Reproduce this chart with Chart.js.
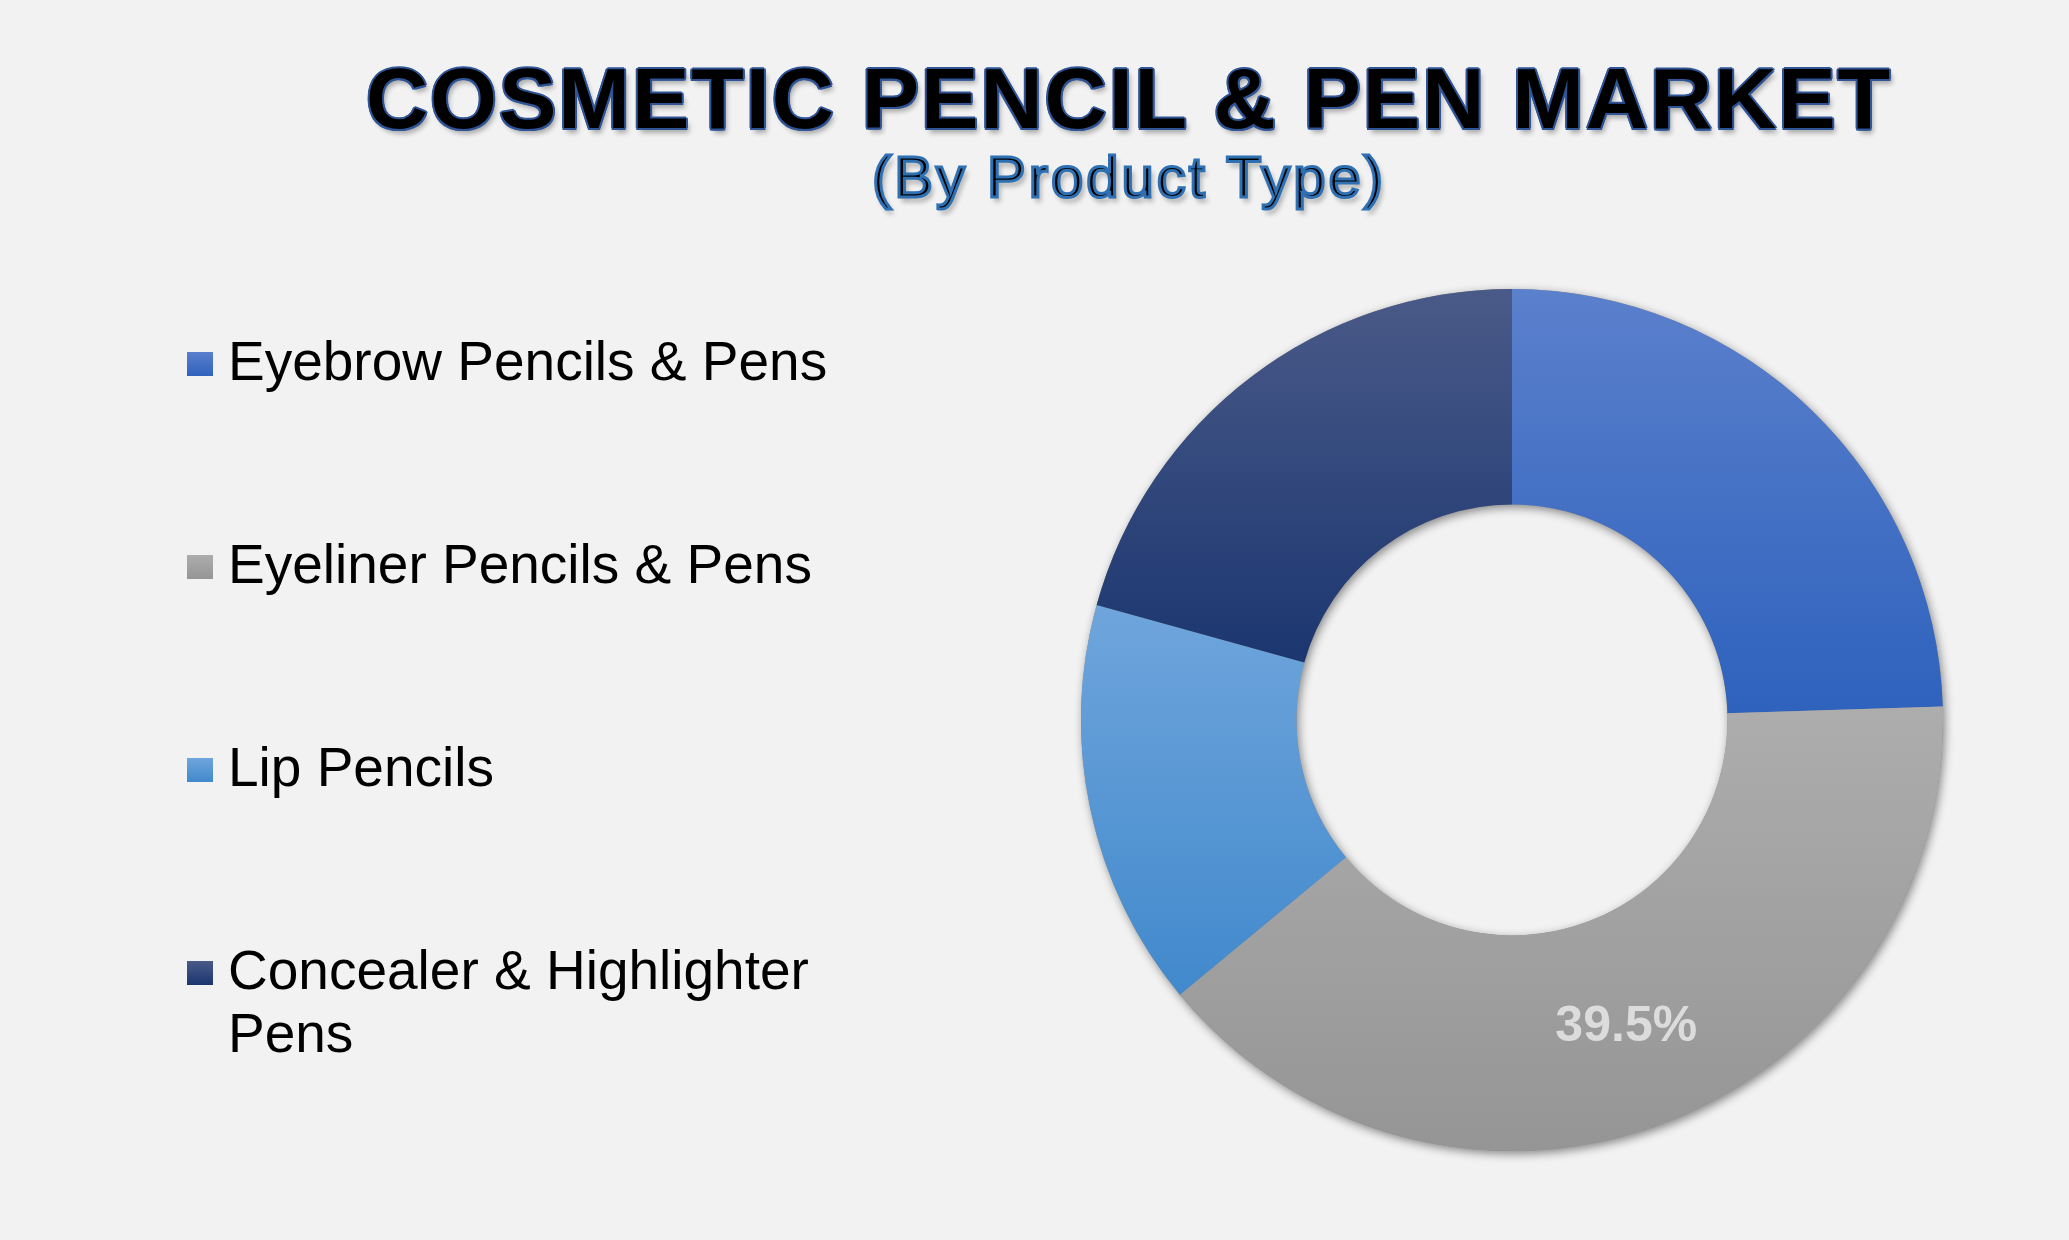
<!DOCTYPE html>
<html>
<head>
<meta charset="utf-8">
<script src="https://cdn.jsdelivr.net/npm/chart.js@4/dist/chart.umd.min.js"></script>
<style>
  html, body { margin:0; padding:0; background:#f2f2f2; }
  body { width:2069px; height:1240px; position:relative; overflow:hidden; font-family:"Liberation Sans", Arial, sans-serif; }
  #title { position:absolute; left:1129px; top:55px; transform:translateX(-50%); white-space:nowrap;
    font-weight:700; font-size:86px; line-height:86px; letter-spacing:2px; color:#000;
    text-shadow: 2px 0 #2f5597, -2px 0 #2f5597, 0 2px #2f5597, 0 -2px #2f5597,
      1.5px 1.5px #2f5597, -1.5px -1.5px #2f5597, 1.5px -1.5px #2f5597, -1.5px 1.5px #2f5597,
      3px 5px 5px rgba(0,0,0,0.3); }
  #subtitle { position:absolute; left:1129px; top:148px; transform:translateX(-50%); white-space:nowrap;
    font-weight:400; font-size:58px; line-height:58px; letter-spacing:3px; color:#000;
    -webkit-text-stroke: 3px #2e70b2;
    text-shadow: 3px 5px 5px rgba(0,0,0,0.3); }
  .leg { position:absolute; left:187px; width:660px; font-size:55px; line-height:63px; color:#000; }
  .leg .sw { position:absolute; left:0; top:22px; width:26px; height:24px; }
  .leg .tx { position:absolute; left:41px; width:625px; }
  #wrap { position:absolute; left:1052px; top:260px; width:920px; height:920px; }
</style>
</head>
<body>
<div id="title">COSMETIC PENCIL &amp; PEN MARKET</div>
<div id="subtitle">(By Product Type)</div>
<div id="legend"></div>
<div id="wrap"><canvas id="c" width="920" height="920"></canvas></div>
<script>
const categories = ['Eyebrow Pencils & Pens', 'Eyeliner Pencils & Pens', 'Lip Pencils', 'Concealer & Highlighter Pens'];
const shares = [24.5, 39.5, 15.3, 20.7];
const topColors = ['#5b80cc', '#adadad', '#6fa5dc', '#4a5a88'];
const bottomColors = ['#2e62bd', '#959595', '#4189cc', '#1b3670'];
const labelShown = [false, true, false, false];

// HTML legend built from the arrays
const legend = document.getElementById('legend');
categories.forEach((name, i) => {
  const item = document.createElement('div');
  item.className = 'leg';
  item.style.top = (330 + i * 203) + 'px';
  const sw = document.createElement('div');
  sw.className = 'sw';
  sw.style.background = 'linear-gradient(to bottom,' + topColors[i] + ',' + bottomColors[i] + ')';
  const tx = document.createElement('div');
  tx.className = 'tx';
  tx.textContent = name;
  item.appendChild(sw); item.appendChild(tx);
  legend.appendChild(item);
});

const gradientPlugin = {
  id: 'segGrad',
  beforeDatasetsDraw(chart) {
    const meta = chart.getDatasetMeta(0);
    const ctx = chart.ctx;
    meta.data.forEach((arc, i) => {
      const p = arc.getProps(['x', 'y', 'startAngle', 'endAngle', 'innerRadius', 'outerRadius'], true);
      let minY = Infinity, maxY = -Infinity;
      for (let k = 0; k <= 90; k++) {
        const a = p.startAngle + (p.endAngle - p.startAngle) * k / 90;
        for (const r of [p.innerRadius, p.outerRadius]) {
          const y = p.y + r * Math.sin(a);
          minY = Math.min(minY, y); maxY = Math.max(maxY, y);
        }
      }
      const g = ctx.createLinearGradient(0, minY, 0, maxY);
      g.addColorStop(0, topColors[i]);
      g.addColorStop(1, bottomColors[i]);
      arc.options.backgroundColor = g;
    });
    const a0 = meta.data[0];
    ctx.save();
    ctx.beginPath();
    ctx.arc(a0.x, a0.y, a0.outerRadius, 0, 2 * Math.PI);
    ctx.arc(a0.x, a0.y, a0.innerRadius, 0, 2 * Math.PI, true);
    ctx.closePath();
    ctx.shadowColor = 'rgba(0,0,0,0.45)';
    ctx.shadowBlur = 10;
    ctx.shadowOffsetX = 2;
    ctx.shadowOffsetY = 3;
    ctx.fillStyle = '#8a8a8a';
    ctx.fill();
    ctx.restore();
  },
  afterDatasetsDraw(chart) {
    const meta = chart.getDatasetMeta(0);
    const ctx = chart.ctx;
    ctx.save();
    ctx.font = 'bold 50px "Liberation Sans", Arial, sans-serif';
    ctx.fillStyle = '#dcdcdc';
    ctx.textAlign = 'center';
    ctx.textBaseline = 'middle';
    meta.data.forEach((arc, i) => {
      if (!labelShown[i]) return;
      const pos = arc.tooltipPosition();
      ctx.fillText(shares[i].toFixed(1) + '%', pos.x, pos.y + 5);
    });
    ctx.restore();
  }
};

new Chart(document.getElementById('c'), {
  type: 'doughnut',
  data: {
    labels: categories,
    datasets: [{
      data: shares,
      backgroundColor: topColors,
      borderWidth: 0,
      hoverOffset: 0
    }]
  },
  options: {
    responsive: false,
    animation: false,
    events: [],
    cutout: '50%',
    layout: { padding: 29 },
    plugins: { legend: { display: false }, tooltip: { enabled: false }, title: { display: false } }
  },
  plugins: [gradientPlugin]
});
</script>
</body>
</html>
